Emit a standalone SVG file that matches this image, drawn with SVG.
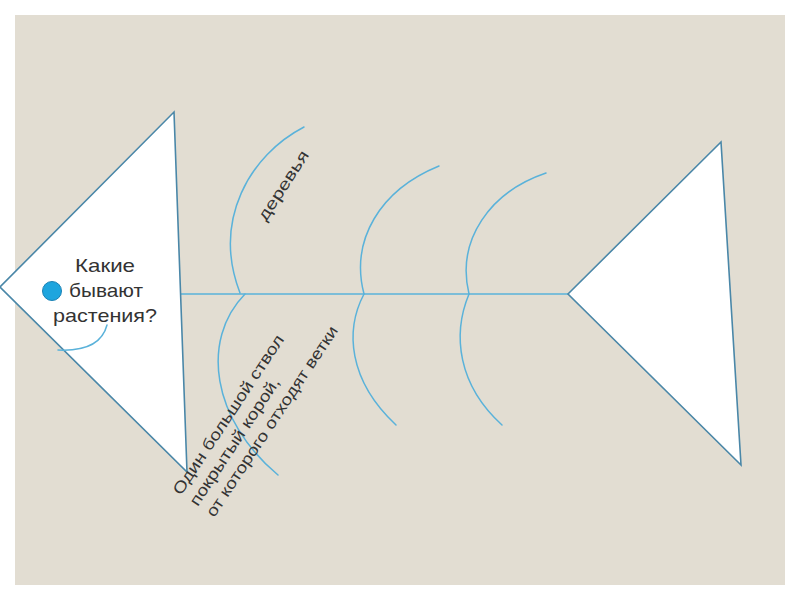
<svg xmlns="http://www.w3.org/2000/svg" width="800" height="600" viewBox="0 0 800 600">
  <style>
    .tri { fill: #ffffff; stroke: #4a87a8; stroke-width: 1.6; stroke-linejoin: miter; }
    .bone { fill: none; stroke: #5ab2da; stroke-width: 1.5; stroke-linecap: round; }
    .txt { font-family: "Liberation Sans", "DejaVu Sans", sans-serif; fill: #333333; }
    .head { font-size: 19px; text-anchor: middle; }
    .lbl { font-size: 16px; }
  </style>
  <rect x="0" y="0" width="800" height="600" fill="#ffffff"/>
  <rect x="15" y="15" width="770" height="570" fill="#e2ddd2"/>

  <g id="connectors">
    <line class="bone" x1="181" y1="294" x2="568" y2="294"/>
    <path class="bone" d="M304,127 C250,155 212,220 240,293"/>
    <path class="bone" d="M245,294 C200,340 212,420 278,475"/>
    <path class="bone" d="M439,166 C380,190 350,240 364,294"/>
    <path class="bone" d="M364,294 C345,330 348,380 396,425"/>
    <path class="bone" d="M546,173 C490,192 456,240 469,294"/>
    <path class="bone" d="M469,294 C452,335 458,385 502,425"/>
  </g>

  <g id="head">
    <polygon class="tri" points="0,287 174,112 187,472"/>
    <circle cx="52" cy="291" r="9.5" fill="#1ea5de" stroke="#1b82b5" stroke-width="1"/>
    <path class="bone" d="M107,325 Q100,352 58,350"/>
    <text class="txt head" x="105" y="272" textLength="60" lengthAdjust="spacingAndGlyphs">Какие</text>
    <text class="txt head" x="106" y="297" textLength="74" lengthAdjust="spacingAndGlyphs">бывают</text>
    <text class="txt head" x="105" y="322" textLength="104" lengthAdjust="spacingAndGlyphs">растения?</text>
  </g>

  <g id="tail">
    <polygon class="tri" points="568,294 721,142 741,465"/>
  </g>

  <g id="label-trees">
    <text class="txt lbl" transform="translate(266,222) rotate(-57)" textLength="80" lengthAdjust="spacingAndGlyphs">деревья</text>
  </g>

  <g id="label-trunk" transform="translate(181,496) rotate(-56.5)">
    <text class="txt lbl" x="0" y="0" textLength="188" lengthAdjust="spacingAndGlyphs">Один большой ствол</text>
    <text class="txt lbl" x="0" y="20" textLength="150" lengthAdjust="spacingAndGlyphs">покрытый корой,</text>
    <text class="txt lbl" x="0" y="40" textLength="225" lengthAdjust="spacingAndGlyphs">от которого отходят ветки</text>
  </g>
</svg>
